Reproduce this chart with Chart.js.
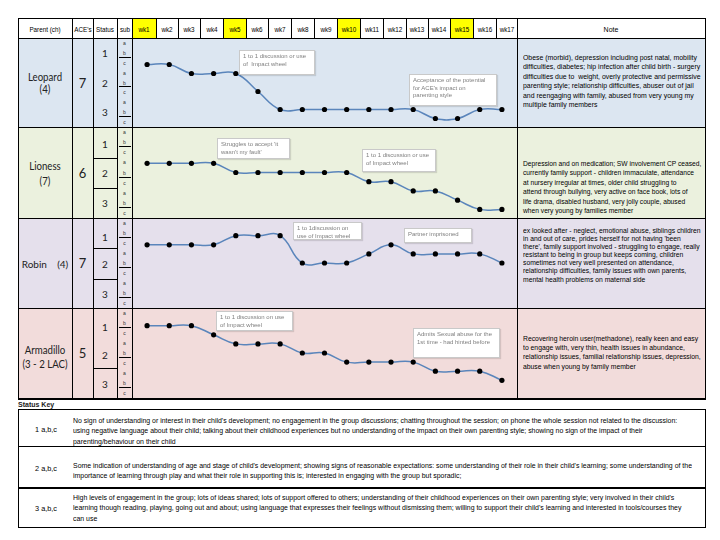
<!DOCTYPE html>
<html><head><meta charset="utf-8">
<script src="https://cdn.jsdelivr.net/npm/chart.js@4"></script>
<style>
html,body{margin:0;padding:0;background:#fff;}
#page{position:relative;width:720px;height:540px;overflow:hidden;font-family:"Liberation Sans",Arial,sans-serif;color:#000;}
.bg{position:absolute;}
.hl{position:absolute;background:#000;height:1px;}
.vl{position:absolute;background:#000;width:1px;}
.t{position:absolute;white-space:nowrap;line-height:1;}
.note{position:absolute;white-space:pre;font-size:7.8px;color:#000;transform-origin:0 0;}
.ann{position:absolute;background:#fff;border:1px solid #c9c9c9;color:#808080;font-size:6px;line-height:7.5px;padding:2px 3px;box-sizing:border-box;white-space:pre;box-shadow:1px 1px 1px rgba(0,0,0,0.12);overflow:hidden;}
canvas{position:absolute;}
</style></head><body><div id="page"></div>
<script>
// ---------- data ----------
const weeks = ['wk1','wk2','wk3','wk4','wk5','wk6','wk7','wk8','wk9','wk10','wk11','wk12','wk13','wk14','wk15','wk16','wk17'];
const highlightedWeeks = ['wk1','wk5','wk10','wk15'];
const levels = ['1a','1b','1c','2a','2b','2c','3a','3b','3c'];
const parents = ['Leopard','Lioness','Robin','Armadillo'];
const children = ['(4)','(7)','(4)','(3 - 2 LAC)'];
const aces = ['7','6','7','5'];
const leopard   = ['1c','1c','2a','2a','2a','2c','3b','3b','3b','3b','3b','3b','3b','3c','3c','3b','3b'];
const lioness   = ['2a','2a','2a','2a','2b','2b','2b','2b','2b','2b','2c','2c','3a','3a','3b','3c','3c'];
const robin     = ['1c','1c','1c','1c','1b','1b','1b','2b','2b','2b','2a','1c','2a','2a','2a','2a','2b'];
const armadillo = ['1b','1b','1b','1c','2a','2a','2a','2b','2b','2c','2c','2c','2c','3a','3a','3a','3b'];
const series = [leopard, lioness, robin, armadillo];
const notes = [
 ['Obese (morbid), depression including post natal, mobility','difficulties, diabetes; hip infection after child birth - surgery','difficulties due to  weight, overly protective and permissive','parenting style; relationship difficulties, abuser out of jail','and reengaging with family, abused from very young my','multiple family members'],
 ['Depression and on medication; SW involvement CP ceased,','currently family support - children immaculate, attendance','at nursery irregular at times, older child struggling to','attend through bullying, very active on face book, lots of','life drama, disabled husband, very jolly couple, abused','when very young by families member'],
 ['ex looked after - neglect, emotional abuse, siblings children','in and out of care, prides herself for not having \'been','there\', family support involved - struggling to engage, really','resistant to being in group but keeps coming, children','sometimes not very well presented on attendance,','relationship difficulties, family issues with own parents,','mental health problems on maternal side'],
 ['Recovering heroin user(methadone), really keen and easy','to engage with, very thin, health issues in abundance,','relationship issues, familial relationship issues, depression,','abuse when young by family member']
];
const annotations = [
 [['1 to 1 discussion or use','of  Impact wheel'],['Acceptance of the potential','for ACE\'s impact on','parenting style']],
 [['Struggles to accept \'it','wasn\'t my fault\''],['1 to 1 discussion or use','of Impact wheel']],
 [['1 to 1discussion on','use of Impact wheel'],['Partner imprisoned']],
 [['1 to 1 discussion on use','of Impact wheel'],['Admits Sexual abuse for the','1st time - had hinted before']]
];
const keyLabels = ['1 a,b,c','2 a,b,c','3 a,b,c'];
const keyTexts = [
 ['No sign of understanding or interest in their child\'s development; no engagement in the group discussions; chatting throughout the session; on phone the whole session not related to the discussion:','using negative language about their child; talking about their childhood experiences but no understanding of the impact on their own parenting style; showing no sign of the impact of their','parenting/behaviour on their child'],
 ['Some indication of understanding of age and stage of child\'s development; showing signs of reasonable expectations: some understanding of their role in their child\'s learning; some understanding of the','importance of learning through play and what their role in supporting this is; interested in engaging with the group but sporadic;'],
 ['High levels of engagement in the group; lots of ideas shared; lots of support offered to others; understanding of their childhood experiences on their own parenting style; very involved in their child\'s','learning though reading, playing, going out and about; using language that expresses their feelings without dismissing them; willing to support their child\'s learning and interested in tools/courses they','can use']
];

// ---------- layout ----------
const page = document.getElementById('page');
function el(cls, css, html){const d=document.createElement('div');d.className=cls;Object.assign(d.style,css);if(html!==undefined)d.innerHTML=html;page.appendChild(d);return d;}
function hline(x1,x2,y,w){el('hl',{left:x1+'px',top:y+'px',width:(x2-x1)+'px',height:(w||1)+'px'});}
function vline(x,y1,y2,w){el('vl',{left:x+'px',top:y1+'px',height:(y2-y1)+'px',width:(w||1)+'px'});}
function text(s,x,y,size,opts){opts=opts||{};const d=el('t',Object.assign({left:x+'px',top:y+'px',fontSize:size+'px'},opts.css||{}),s);
  if(opts.center){d.style.transform='translate(-50%,-50%)'+(opts.sx?' scaleX('+opts.sx+')':'');} else if(opts.vcenter){d.style.transform='translate(0,-50%)';}
  return d;}
function fitBlock(d,target){const w=d.scrollWidth; const s=Math.min(1,target/w); d.style.transform='scaleX('+s+')'; return s;}

const L=18, R=705, HT=18, HB=38;
const colX = [18,72,93,117,132];
const wkX = [132,156,178,200,223,246,268,291,314,337,360,383,406,428,450,473,496,517];
const rowTop = [38,127,218,308], rowBot=[127,218,308,398];
const rowColors = ['#dce6f1','#ebf1de','#e5e0ec','#f2dcdb'];

for(let r=0;r<4;r++) el('bg',{left:L+'px',top:rowTop[r]+'px',width:(R-L)+'px',height:(rowBot[r]-rowTop[r])+'px',background:rowColors[r]});
weeks.forEach((w,i)=>{ if(highlightedWeeks.includes(w)) el('bg',{left:wkX[i]+'px',top:HT+'px',width:(wkX[i+1]-wkX[i])+'px',height:(HB-HT)+'px',background:'#ffff00'}); });

const hdr = [['Parent (ch)',18,72],['ACE\'s',72,93],['Status',93,117],['sub',117,132]];
hdr.forEach(h=>text(h[0],(h[1]+h[2])/2,28.5,7,{center:true,sx:0.9}));
weeks.forEach((w,i)=>text(w,(wkX[i]+wkX[i+1])/2,28.5,7,{center:true,sx:0.9}));
text('Note',(517+705)/2,28.5,7,{center:true});

hline(L,R+1,HT); hline(L,R+1,HB);
[...colX,...wkX,R].forEach(x=>vline(x,HT,HB));
for(let r=0;r<4;r++) hline(L,R+1,rowBot[r], r===3?2:1);
[...colX,517,R].forEach(x=>vline(x,HB,398));

const namePos=[[77,89],[166,181],[264,null],[350,364]];
const statusPos=[[53,83,112],[144,173,203],[237,264,294],[327,355,384]];
const statusLines=[[],[158,188],[248,279],[368]];
const noteTop=[53,159,227,334];
const noteLH=[9.4,9.4,8.1,9.2];
const annBoxes=[[[239,50,76,25],[409,74,88,32]],[[217,138,73,21],[362,149,74,23]],[[293,222,69,18],[404,228,68,15]],[[216,311,77,20],[413,328,87,30]]];
const bigFont='Lato, "Open Sans", sans-serif';
for(let r=0;r<4;r++){
  const top=rowTop[r], h=rowBot[r]-rowTop[r];
  if(namePos[r][1]===null){
    text(parents[r]+'&nbsp;&nbsp;&nbsp;&nbsp;'+children[r],45,namePos[r][0],10,{center:true,css:{fontFamily:bigFont,color:'#222'}});
  } else {
    text(parents[r],45,namePos[r][0],10.5,{center:true,sx:0.92,css:{fontFamily:bigFont,color:'#222'}});
    text(children[r],45,namePos[r][1],10.5,{center:true,sx:0.92,css:{fontFamily:bigFont,color:'#222'}});
  }
  text(aces[r],82.5,(top+rowBot[r])/2,13,{center:true,css:{fontFamily:bigFont,color:'#222'}});
  ['1','2','3'].forEach((s,k)=>text(s,105,statusPos[r][k],10,{center:true,css:{fontFamily:bigFont,color:'#222'}}));
  statusLines[r].forEach(y=>hline(93,117,y));
  levels.forEach((lv,k)=>{
    text(lv[1],124.5,top+h*(k+0.5)/9,5,{center:true,css:{color:'#333'}});
  });
  [1,4,7].forEach(k=>hline(119,131,Math.round(top+h*(k+0.9)/9)));
  const nd=el('note',{left:'523px',top:noteTop[r]+'px',lineHeight:noteLH[r]+'px'});
  nd.textContent=notes[r].join('\n');
  fitBlock(nd,178);
}

for(let r=0;r<4;r++){
  const top=rowTop[r], h=rowBot[r]-rowTop[r];
  const cv=document.createElement('canvas');
  cv.width=385; cv.height=h;
  cv.style.left='132px'; cv.style.top=top+'px'; cv.style.width='385px'; cv.style.height=h+'px';
  page.appendChild(cv);
  new Chart(cv.getContext('2d'),{
    type:'line',
    data:{labels:weeks,datasets:[{
      data:series[r].map(c=>levels.indexOf(c)+1),
      borderColor:'#5a85bb',borderWidth:1.5,tension:0.45,
      pointRadius:2.6,pointBackgroundColor:'#000',pointBorderColor:'#000',pointBorderWidth:0,
      clip:false,fill:false
    }]},
    options:{
      responsive:false,animation:false,events:[],
      layout:{padding:0},
      plugins:{legend:{display:false},tooltip:{enabled:false}},
      scales:{
        x:{type:'category',offset:true,display:false},
        y:{type:'linear',min:0.5,max:9.5,reverse:true,display:false,ticks:{callback:v=>levels[v-1]}}
      }
    }
  });
}

for(let r=0;r<4;r++){
  annotations[r].forEach((a,i)=>{
    const b=annBoxes[r][i];
    const d=el('ann',{left:b[0]+'px',top:b[1]+'px',width:b[2]+'px',height:b[3]+'px'});
    d.textContent=a.join('\n');
  });
}

text('Status Key',18,404,7,{vcenter:true,css:{fontWeight:'bold',color:'#222'}});
const kT=409,kB=527,kDiv=[446,487];
hline(L,R+1,kT); hline(L,R+1,kB); hline(L,R+1,kDiv[0]); hline(L,R+1,kDiv[1],2);
vline(L,kT,kB+1); vline(R,kT,kB+1);
const keyLabelY=[430,469,509];
const keyTextTop=[416,461,493];
keyLabels.forEach((s,i)=>text(s,46,keyLabelY[i],7.3,{center:true}));
const kblocks=keyTexts.map((lines,i)=>{
  const d=el('note',{left:'73px',top:keyTextTop[i]+'px',lineHeight:'10.3px',fontSize:'7.3px'});
  d.textContent=lines.join('\n'); return d;
});
const kw=Math.max(...kblocks.map(d=>d.scrollWidth));
kblocks.forEach(d=>d.style.transform='scaleX('+Math.min(1,619/kw)+')');
</script></body></html>
